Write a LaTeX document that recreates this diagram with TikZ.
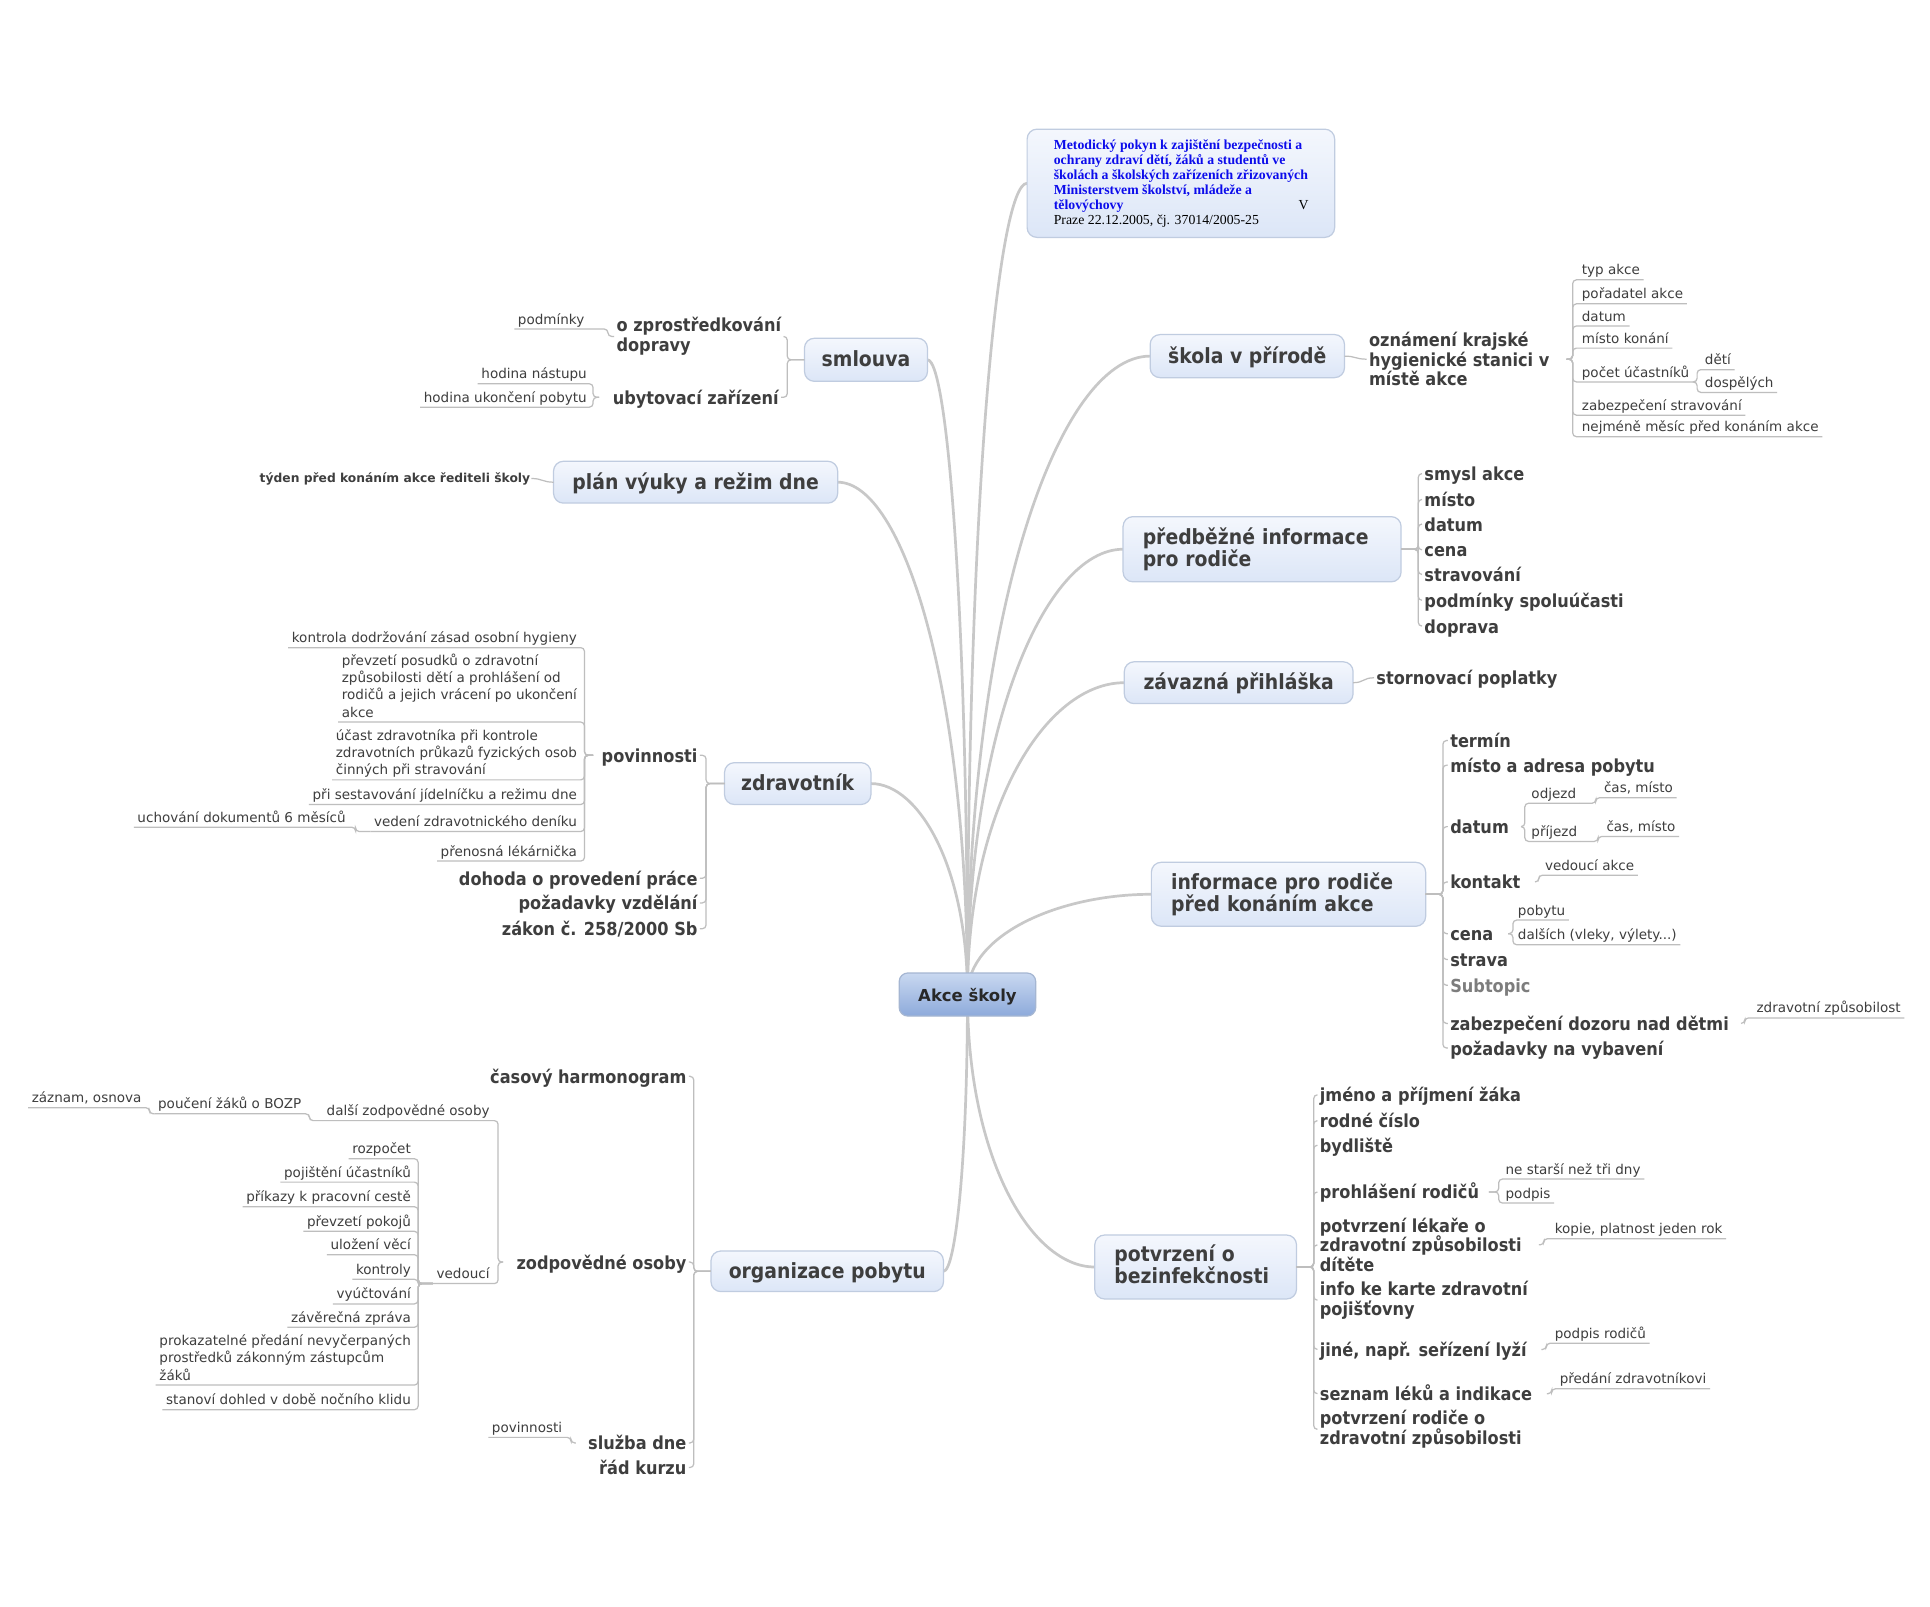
\documentclass[tikz,border=0pt]{standalone}
\usepackage{fontspec}
\setmainfont{DejaVu Sans}
\newfontfamily\nbold{DejaVu Sans}[FakeStretch=0.9]
\newfontfamily\serfont{Liberation Serif}
\usetikzlibrary{calc,backgrounds}
\definecolor{lc}{RGB}{200,200,200}
\definecolor{slc}{RGB}{190,190,190}
\definecolor{tc}{RGB}{62,62,62}
\definecolor{ctc}{RGB}{40,40,40}
\definecolor{gtc}{RGB}{125,125,125}
\definecolor{bfill1}{RGB}{244,247,253}
\definecolor{bfill2}{RGB}{220,230,247}
\definecolor{bdraw}{RGB}{192,204,224}
\definecolor{cfill1}{RGB}{201,216,240}
\definecolor{cfill2}{RGB}{141,170,219}
\definecolor{cdraw}{RGB}{165,182,210}
\definecolor{mblue}{RGB}{12,12,235}
\newcommand\fMain{\nbold\fontsize{17}{18.5}\selectfont\bfseries}
\newcommand\fSub{\nbold\fontsize{14.6}{16}\selectfont\bfseries}
\newcommand\fLeaf{\fontsize{11}{14}\selectfont}
\newcommand\fCent{\fontsize{13.4}{16}\selectfont\bfseries}
\newcommand\fTiny{\fontsize{10}{12}\selectfont\bfseries}
\newcommand\fMeto{\fontsize{11.2}{12.2}\selectfont}
\newcommand\LD{\rule[-2.5pt]{0pt}{2.5pt}}
\newcommand\LDm{\rule[-4.5pt]{0pt}{4.5pt}}
\begin{document}
\begin{tikzpicture}[x=1pt,y=-1pt,
 topicT/.style={draw=bdraw,line width=1pt,rounded corners=8pt,top color=bfill1,bottom color=bfill2,text=tc,font=\fMain,inner sep=0pt,outer sep=0pt,align=center},
 oneT/.style={text height=15.4pt,text depth=4pt},
 centT/.style={draw=cdraw,line width=1pt,rounded corners=7pt,top color=cfill1,bottom color=cfill2,text=ctc,font=\fCent,inner sep=0pt,outer sep=0pt,text height=13.6pt,text depth=3pt},
 subT/.style={font=\fSub,text=tc,inner xsep=2pt,inner ysep=1pt,outer sep=0pt},
 oneS/.style={text height=14.9pt,text depth=3.5pt},
 leafT/.style={font=\fLeaf,text=tc,inner xsep=3pt,inner ysep=1.5pt,outer sep=0pt},
 oneL/.style={text height=8.5pt,text depth=2.5pt},
 slink/.style={draw=slc,line width=1pt,rounded corners=3pt},
 mlink/.style={draw=lc,line width=2.2pt,to path={.. controls ($(\tikztostart)!0.6!(\tikztostart |- \tikztotarget)$) and ($(\tikztotarget)!0.5!(\tikztostart |- \tikztotarget)$) .. (\tikztotarget)}}
]
\useasboundingbox (0,0) rectangle (1569,1306);

% ---------- main topics ----------
\node[centT,minimum width=111pt,minimum height=35pt] (akce) at (786.5,808.5) {Akce školy};

\node[topicT,minimum width=250pt,minimum height=88pt,align=left,font={\fMeto\serfont\bfseries},text=mblue] (meto) at (960,149)
 {Metodický pokyn k zajištění bezpečnosti a\\ochrany zdraví dětí, žáků a studentů ve\\školách a školských zařízeních zřizovaných\\Ministerstvem školství, mládeže a\\\rlap{\hspace{199pt}{\mdseries\color{black}V}}tělovýchovy\\{\mdseries\color{black}Praze 22.12.2005, čj. 37014/2005-25}};

\node[topicT,oneT,minimum width=100pt,minimum height=35pt] (smlouva) at (704,292.5) {smlouva};
\node[topicT,oneT,minimum width=231pt,minimum height=34pt] (plan) at (565.5,392) {plán výuky a režim dne};
\node[topicT,oneT,minimum width=119pt,minimum height=34pt] (zdrav) at (648.5,637) {zdravotník};
\node[topicT,oneT,minimum width=189pt,minimum height=33pt] (organ) at (672.5,1033.5) {organizace pobytu};
\node[topicT,oneT,minimum width=158pt,minimum height=35pt] (skola) at (1014,289.5) {škola v přírodě};
\node[topicT,minimum width=226pt,minimum height=53pt,text width=194pt,align=left] (predb) at (1026,446.5) {předběžné informace\\pro rodiče};
\node[topicT,oneT,minimum width=186pt,minimum height=34pt] (zavaz) at (1007,555) {závazná přihláška};
\node[topicT,minimum width=223pt,minimum height=52pt,text width=191pt,align=left] (inform) at (1047.5,727) {informace pro rodiče\\před konáním akce};
\node[topicT,minimum width=164pt,minimum height=52pt,text width=132pt,align=left] (potvr) at (972,1030) {potvrzení o\\bezinfekčnosti\LDm};

\begin{pgfonlayer}{background}
\fill[white] (0,0) rectangle (1569,1306);
\draw[mlink] (akce.center) to (meto.west);
\draw[mlink] (akce.center) to (skola.west);
\draw[mlink] (akce.center) to (predb.west);
\draw[mlink] (akce.center) to (zavaz.west);
\draw[mlink] (akce.center) to (inform.west);
\draw[mlink] (akce.center) to (potvr.west);
\draw[mlink] (akce.center) to (smlouva.east);
\draw[mlink] (akce.center) to (plan.east);
\draw[mlink] (akce.center) to (zdrav.east);
\draw[mlink] (akce.center) to (organ.east);
\end{pgfonlayer}

% ---------- smlouva ----------
\node[subT,align=left,anchor=east] (ozpr) at (637,273.5) {o zprostředkování\\dopravy};
\node[subT,oneS,anchor=east] (ubyt) at (635,323) {ubytovací zařízení};
\draw[slink] (smlouva.west) -- ++(-14,0) |- (ozpr.east);
\draw[slink] (smlouva.west) -- ++(-14,0) |- (ubyt.east);
\node[leafT,oneL,anchor=south east] (podm) at (478,267.5) {podmínky};
\draw[slink] (ozpr.west) -- ++(-5,0) |- (podm.south west);
\node[leafT,oneL,anchor=south east] (hnas) at (480,312) {hodina nástupu};
\node[leafT,oneL,anchor=south east] (hukon) at (480,331) {hodina ukončení pobytu};
\draw[slink] ([xshift=-9pt]ubyt.west) -- ++(-5,0) |- (hnas.south west);
\draw[slink] ([xshift=-9pt]ubyt.west) -- ++(-5,0) |- (hukon.south west);

% ---------- plan ----------
\node[font=\fTiny,text=tc,anchor=east,inner sep=1pt,outer sep=0pt] (tyden) at (432,389) {týden před konáním akce řediteli školy};
\draw[slink] (tyden.east) .. controls +(9,0) and +(-9,0) .. (plan.west);

% ---------- zdravotnik ----------
\node[subT,oneS,anchor=east] (povin) at (569,614) {povinnosti};
\node[subT,oneS,anchor=east] (dohoda) at (569,714) {dohoda o provedení práce};
\node[subT,oneS,anchor=east] (pozvzd) at (569,734) {požadavky vzdělání};
\node[subT,oneS,anchor=east] (zakon) at (569,755) {zákon č. 258/2000 Sb};
\foreach \n in {povin,dohoda,pozvzd,zakon} \draw[slink] (zdrav.west) -- ++(-15,0) |- (\n.east);

\node[leafT,oneL,anchor=south east] (kontr) at (472,526.5) {kontrola dodržování zásad osobní hygieny};
\node[leafT,align=left,anchor=south east] (prevz) at (472,587) {převzetí posudků o zdravotní\\způsobilosti dětí a prohlášení od\\rodičů a jejich vrácení po ukončení\\akce\LD};
\node[leafT,align=left,anchor=south east] (ucast) at (472,634) {účast zdravotníka při kontrole\\zdravotních průkazů fyzických osob\\činných při stravování\LD};
\node[leafT,oneL,anchor=south east] (prised) at (472,654) {při sestavování jídelníčku a režimu dne};
\node[leafT,oneL,anchor=south east] (vedeni) at (472,676) {vedení zdravotnického deníku};
\node[leafT,oneL,anchor=south east] (prenos) at (472,700) {přenosná lékárnička};
\foreach \n in {kontr,prevz,ucast,prised,vedeni,prenos} \draw[slink] ([xshift=-5pt]povin.west) -- ++(-7,0) |- (\n.south west);
\node[leafT,oneL,anchor=south east] (uchov) at (284,672.5) {uchování dokumentů 6 měsíců};
\draw[slink] (vedeni.south west) -- ++(-12,0) |- (uchov.south west);

% ---------- organizace ----------
\node[subT,oneS,anchor=east] (casharm) at (560,875) {časový harmonogram};
\node[subT,oneS,anchor=east] (zodp) at (560,1026) {zodpovědné osoby};
\node[subT,oneS,anchor=east] (sluzba) at (560,1173) {služba dne};
\node[subT,oneS,anchor=east] (radk) at (560,1193) {řád kurzu};
\foreach \n in {casharm,zodp,sluzba,radk} \draw[slink] (organ.west) -- ++(-14,0) |- (\n.east);

\node[leafT,oneL,anchor=south east] (dalsi) at (401,911) {další zodpovědné osoby};
\node[leafT,oneL,anchor=south east] (vedouci) at (401,1043.5) {vedoucí};
\draw[slink] ([xshift=-9pt]zodp.west) -- ++(-4,0) |- (dalsi.south west);
\draw[slink] ([xshift=-9pt]zodp.west) -- ++(-4,0) |- (vedouci.south west);
\node[leafT,oneL,anchor=south east] (pouceni) at (248,905.5) {poučení žáků o BOZP};
\draw[slink] (dalsi.south west) -- ++(-11,0) |- (pouceni.south west);
\node[leafT,oneL,anchor=south east] (zaznam) at (118,900.5) {záznam, osnova};
\draw[slink] (pouceni.south west) -- ++(-4,0) |- (zaznam.south west);

\node[leafT,oneL,anchor=south east] (rozp) at (337,942) {rozpočet};
\node[leafT,oneL,anchor=south east] (pojis) at (337,961) {pojištění účastníků};
\node[leafT,oneL,anchor=south east] (prikaz) at (337,981) {příkazy k pracovní cestě};
\node[leafT,oneL,anchor=south east] (prevzp) at (337,1001) {převzetí pokojů};
\node[leafT,oneL,anchor=south east] (ulozeni) at (337,1020) {uložení věcí};
\node[leafT,oneL,anchor=south east] (kontroly) at (337,1040) {kontroly};
\node[leafT,oneL,anchor=south east] (vyuct) at (337,1060) {vyúčtování};
\node[leafT,oneL,anchor=south east] (zaver) at (337,1079) {závěrečná zpráva};
\node[leafT,align=left,anchor=south east] (prokaz) at (337,1126) {prokazatelné předání nevyčerpaných\\prostředků zákonným zástupcům\\žáků\LD};
\node[leafT,oneL,anchor=south east] (stanovi) at (337,1146) {stanoví dohled v době nočního klidu};
\foreach \n in {rozp,pojis,prikaz,prevzp,ulozeni,kontroly,vyuct,zaver,prokaz,stanovi} \draw[slink] (vedouci.south west) -- ++(-12,0) |- (\n.south west);

\node[leafT,oneL,anchor=south east] (povin2) at (460,1168.5) {povinnosti};
\draw[slink] ([xshift=-8pt]sluzba.west) -- ++(-4,0) |- (povin2.south west);

% ---------- skola v prirode ----------
\node[subT,align=left,anchor=west] (oznam) at (1111,292) {oznámení krajské\\hygienické stanici v\\místě akce};
\draw[slink] (skola.east) .. controls +(9,0) and +(-9,0) .. (oznam.west);
\node[leafT,oneL,anchor=south west] (typ) at (1283,227.5) {typ akce};
\node[leafT,oneL,anchor=south west] (porad) at (1283,247) {pořadatel akce};
\node[leafT,oneL,anchor=south west] (datum0) at (1283,265) {datum};
\node[leafT,oneL,anchor=south west] (mistok) at (1283,283) {místo konání};
\node[leafT,oneL,anchor=south west] (pocet) at (1283,310.5) {počet účastníků};
\node[leafT,oneL,anchor=south west] (zabstr) at (1283,337.5) {zabezpečení stravování};
\node[leafT,oneL,anchor=south west] (nejm) at (1283,355) {nejméně měsíc před konáním akce};
\foreach \n in {typ,porad,datum0,mistok,pocet,zabstr,nejm} \draw[slink] ([xshift=12pt]oznam.east) -- ++(5,0) |- (\n.south east);
\node[leafT,oneL,anchor=south west] (deti) at (1383,300.5) {dětí};
\node[leafT,oneL,anchor=south west] (dosp) at (1383,319) {dospělých};
\draw[slink] (pocet.south east) -- ++(3.5,0) |- (deti.south east);
\draw[slink] (pocet.south east) -- ++(3.5,0) |- (dosp.south east);

% ---------- predbezne informace ----------
\node[subT,oneS,anchor=west] (smysl) at (1156,385) {smysl akce};
\node[subT,oneS,anchor=west] (misto1) at (1156,406) {místo};
\node[subT,oneS,anchor=west] (datum1) at (1156,426) {datum};
\node[subT,oneS,anchor=west] (cena1) at (1156,447) {cena};
\node[subT,oneS,anchor=west] (strav1) at (1156,467) {stravování};
\node[subT,oneS,anchor=west] (podsp) at (1156,488) {podmínky spoluúčasti};
\node[subT,oneS,anchor=west] (doprava1) at (1156,509) {doprava};
\foreach \n in {smysl,misto1,datum1,cena1,strav1,podsp,doprava1} \draw[slink] (predb.east) -- ++(14,0) |- (\n.west);

% ---------- zavazna prihlaska ----------
\node[subT,oneS,anchor=west] (storno) at (1117,551) {stornovací poplatky};
\draw[slink] (zavaz.east) .. controls +(9,0) and +(-9,0) .. (storno.west);

% ---------- informace pred konanim ----------
\node[subT,oneS,anchor=west] (termin) at (1177,602) {termín};
\node[subT,oneS,anchor=west] (mistoadr) at (1177,622) {místo a adresa pobytu};
\node[subT,oneS,anchor=west] (datum2) at (1177,672) {datum};
\node[subT,oneS,anchor=west] (kontakt) at (1177,717) {kontakt};
\node[subT,oneS,anchor=west] (cena2) at (1177,759) {cena};
\node[subT,oneS,anchor=west] (strava) at (1177,780) {strava};
\node[subT,oneS,anchor=west,text=gtc] (subtop) at (1177,801) {Subtopic};
\node[subT,oneS,anchor=west] (zabdoz) at (1177,832) {zabezpečení dozoru nad dětmi};
\node[subT,oneS,anchor=west] (pozvyb) at (1177,852) {požadavky na vybavení};
\foreach \n in {termin,mistoadr,datum2,kontakt,cena2,strava,subtop,zabdoz,pozvyb} \draw[slink] (inform.east) -- ++(14,0) |- (\n.west);

\node[leafT,oneL,anchor=south west] (odjezd) at (1242,653) {odjezd};
\node[leafT,oneL,anchor=south west] (prijezd) at (1242,684) {příjezd};
\draw[slink] ([xshift=8pt]datum2.east) -- ++(3,0) |- (odjezd.south east);
\draw[slink] ([xshift=8pt]datum2.east) -- ++(3,0) |- (prijezd.south east);
\node[leafT,oneL,anchor=south west] (casm1) at (1301,648.5) {čas, místo};
\node[leafT,oneL,anchor=south west] (casm2) at (1303,680) {čas, místo};
\draw[slink] (odjezd.south east) -- ++(13,0) |- (casm1.south east);
\draw[slink] (prijezd.south east) -- ++(14,0) |- (casm2.south east);
\node[leafT,oneL,anchor=south west] (vedak) at (1253,711.5) {vedoucí akce};
\draw[slink] ([xshift=10pt]kontakt.east) -- ++(3,0) |- (vedak.south east);
\node[leafT,oneL,anchor=south west] (pobytu) at (1231,748) {pobytu};
\node[leafT,oneL,anchor=south west] (dalsich) at (1231,768) {dalších (vleky, výlety...)};
\draw[slink] ([xshift=10pt]cena2.east) -- ++(4,0) |- (pobytu.south east);
\draw[slink] ([xshift=10pt]cena2.east) -- ++(4,0) |- (dalsich.south east);
\node[leafT,oneL,anchor=south west] (zdrzp) at (1425,827.5) {zdravotní způsobilost};
\draw[slink] ([xshift=8pt]zabdoz.east) -- ++(3,0) |- (zdrzp.south east);

% ---------- potvrzeni o bezinfekcnosti ----------
\node[subT,oneS,anchor=west] (jmeno) at (1071,890) {jméno a příjmení žáka};
\node[subT,oneS,anchor=west] (rodne) at (1071,911) {rodné číslo};
\node[subT,oneS,anchor=west] (bydl) at (1071,931) {bydliště};
\node[subT,oneS,anchor=west] (prohl) at (1071,969) {prohlášení rodičů};
\node[subT,align=left,anchor=west] (potlek) at (1071,1012) {potvrzení lékaře o\\zdravotní způsobilosti\\dítěte};
\node[subT,align=left,anchor=west] (info) at (1071,1057) {info ke karte zdravotní\\pojišťovny};
\node[subT,oneS,anchor=west] (jine) at (1071,1097) {jiné, např. seřízení lyží};
\node[subT,oneS,anchor=west] (seznam) at (1071,1133) {seznam léků a indikace};
\node[subT,align=left,anchor=west] (potrod) at (1071,1162) {potvrzení rodiče o\\zdravotní způsobilosti};
\foreach \n in {jmeno,rodne,bydl,prohl,potlek,info,jine,seznam,potrod} \draw[slink] (potvr.east) -- ++(14,0) |- (\n.west);

\node[leafT,oneL,anchor=south west] (nestarsi) at (1221,958.5) {ne starší než tři dny};
\node[leafT,oneL,anchor=south west] (podpis) at (1221,978) {podpis};
\draw[slink] ([xshift=6pt]prohl.east) -- ++(8,0) |- (nestarsi.south east);
\draw[slink] ([xshift=6pt]prohl.east) -- ++(8,0) |- (podpis.south east);
\node[leafT,oneL,anchor=south west] (kopie) at (1261,1007) {kopie, platnost jeden rok};
\draw[slink] ([xshift=12pt]potlek.east) -- ++(4,0) |- (kopie.south east);
\node[leafT,oneL,anchor=south west] (podprod) at (1261,1092) {podpis rodičů};
\draw[slink] ([xshift=10pt]jine.east) -- ++(4,0) |- (podprod.south east);
\node[leafT,oneL,anchor=south west] (predzdr) at (1265,1129) {předání zdravotníkovi};
\draw[slink] ([xshift=10pt]seznam.east) -- ++(4,0) |- (predzdr.south east);
\end{tikzpicture}
\end{document}
